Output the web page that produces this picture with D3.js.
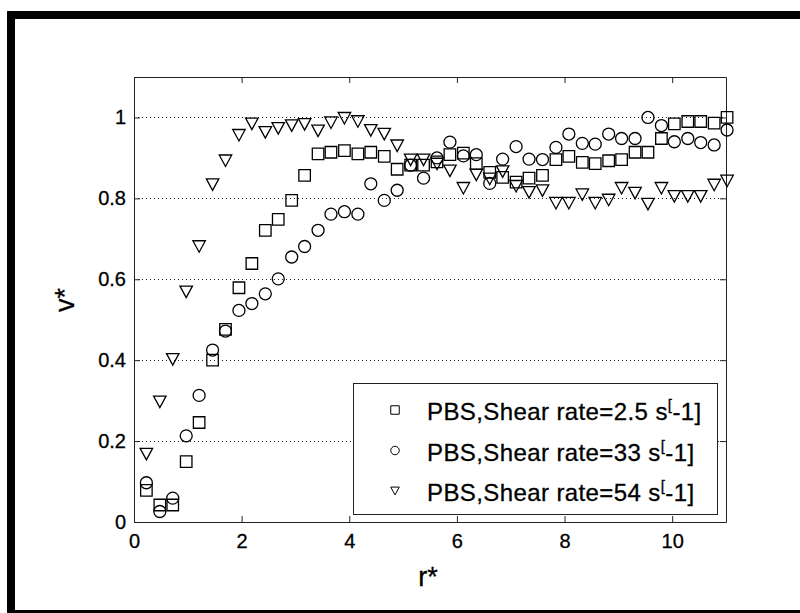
<!DOCTYPE html>
<html>
<head>
<meta charset="utf-8">
<script src="https://cdn.jsdelivr.net/npm/d3@7"></script>
<style>
	body { margin: 0; background: #fff; }
	svg { display: block; font-family: "Liberation Sans", Arial, sans-serif; }
	.axis path, .axis line { stroke: #222; }
	.axis text { fill: #000; font-size: 20px; stroke: #000; stroke-width: 0.3px; }
	.label { stroke: #000; stroke-width: 0.3px; }
</style>
</head>
<body>
<div id="chart"></div>
<script>
// r* positions (shared by the three series)
const rStar = [0.23, 0.48, 0.72, 0.97, 1.21, 1.46, 1.70, 1.95, 2.19, 2.44,
	2.68, 2.93, 3.17, 3.42, 3.66, 3.91, 4.16, 4.40, 4.65, 4.89,
	5.14, 5.38, 5.63, 5.87, 6.12, 6.36, 6.61, 6.85, 7.10, 7.34,
	7.59, 7.84, 8.08, 8.33, 8.57, 8.82, 9.06, 9.31, 9.55, 9.80,
	10.04, 10.29, 10.53, 10.78, 11.02];

// v* for shear rate 2.5 s^-1 (squares)
const vShear25 = [0.078, 0.042, 0.042, 0.149, 0.246, 0.400, 0.476, 0.579, 0.639, 0.721,
	0.748, 0.795, 0.857, 0.910, 0.914, 0.918, 0.910, 0.914, 0.904, 0.872,
	0.882, 0.882, 0.890, 0.908, 0.912, 0.886, 0.864, 0.852, 0.840, 0.850,
	0.857, 0.896, 0.904, 0.889, 0.886, 0.893, 0.896, 0.914, 0.914, 0.948,
	0.984, 0.990, 0.990, 0.986, 1.000];

// v* for shear rate 33 s^-1 (circles)
const vShear33 = [0.097, 0.026, 0.059, 0.213, 0.313, 0.425, 0.472, 0.523, 0.540, 0.564,
	0.601, 0.655, 0.681, 0.721, 0.761, 0.767, 0.761, 0.836, 0.795, 0.820,
	0.882, 0.850, 0.900, 0.939, 0.905, 0.908, 0.837, 0.897, 0.928, 0.897,
	0.896, 0.926, 0.959, 0.936, 0.934, 0.959, 0.948, 0.948, 1.000, 0.980,
	0.940, 0.948, 0.938, 0.932, 0.969];

// v* for shear rate 54 s^-1 (down triangles)
const vShear54 = [0.168, 0.297, 0.402, 0.569, 0.681, 0.834, 0.893, 0.956, 0.984, 0.963,
	0.973, 0.980, 0.983, 0.967, 0.987, 0.998, 0.990, 0.968, 0.959, 0.930,
	0.895, 0.895, 0.885, 0.868, 0.825, 0.858, 0.848, 0.866, 0.830, 0.815,
	0.819, 0.788, 0.788, 0.809, 0.788, 0.796, 0.825, 0.813, 0.786, 0.825,
	0.805, 0.805, 0.805, 0.833, 0.843];

const seriesNames = ['PBS,Shear rate=2.5 s', 'PBS,Shear rate=33 s', 'PBS,Shear rate=54 s'];
const seriesMarkers = ['square', 'circle', 'triangle'];
const xTicks = [0, 2, 4, 6, 8, 10];
const yTicks = [0, 0.2, 0.4, 0.6, 0.8, 1];

class ScatterChart {
	constructor(_config) {
		this.config = {
			parentElement: _config.parentElement,
			containerWidth: 800,
			containerHeight: 613,
			margin: { top: 77, right: 74, bottom: 91, left: 134 },
			legend: { x: 353, y: 383, width: 364, height: 131, rowHeight: 40.5 }
		};
		this.initVis();
	}

	initVis() {
		let vis = this;
		const c = vis.config;
		vis.width = c.containerWidth - c.margin.left - c.margin.right;
		vis.height = c.containerHeight - c.margin.top - c.margin.bottom;

		vis.svg = d3.select(c.parentElement).append('svg')
			.attr('width', c.containerWidth)
			.attr('height', c.containerHeight);

		// thick frame round the figure (runs off the right and bottom)
		vis.svg.append('rect')
			.attr('x', 7).attr('y', 11)
			.attr('width', 1000).attr('height', 700)
			.attr('fill', '#000');
		vis.svg.append('rect')
			.attr('x', 15).attr('y', 19)
			.attr('width', 1000).attr('height', 591)
			.attr('fill', '#fff');

		vis.chart = vis.svg.append('g')
			.attr('transform', `translate(${c.margin.left},${c.margin.top})`);

		vis.xScale = d3.scaleLinear().domain([0, 11]).range([0, vis.width]);
		vis.yScale = d3.scaleLinear().domain([0, 1.1]).range([vis.height, 0]);

		vis.series = [vShear25, vShear33, vShear54].map((vals, i) => ({
			name: seriesNames[i],
			marker: seriesMarkers[i],
			values: vals.map((v, j) => ({ x: rStar[j], y: v }))
		}));

		this.renderVis();
	}

	markerPath(type, s) {
		// s = full marker width in px
		const h = s / 2;
		if (type === 'square') return `M${-h},${-h}H${h}V${h}H${-h}Z`;
		if (type === 'circle') return `M${h},0A${h},${h} 0 1,1 ${-h},0A${h},${h} 0 1,1 ${h},0Z`;
		return `M${-h},${-h * 0.92}H${h}L0,${h * 0.92}Z`;
	}

	renderVis() {
		let vis = this;
		const c = vis.config;

		// dotted grid on y ticks
		vis.chart.append('g')
			.selectAll('line')
			.data(yTicks.filter(d => d > 0))
			.join('line')
			.attr('x1', 0)
			.attr('x2', vis.width)
			.attr('y1', d => Math.round(vis.yScale(d)) + 0.5)
			.attr('y2', d => Math.round(vis.yScale(d)) + 0.5)
			.attr('stroke', '#222')
			.attr('stroke-dasharray', '1,3');

		// box axes, ticks pointing inward
		vis.chart.append('g')
			.attr('class', 'axis')
			.attr('transform', `translate(0,${vis.height})`)
			.call(d3.axisBottom(vis.xScale).tickValues(xTicks).tickSizeInner(-6).tickSizeOuter(0).tickPadding(12));
		vis.chart.append('g')
			.attr('class', 'axis')
			.call(d3.axisTop(vis.xScale).tickValues(xTicks).tickSizeInner(-6).tickSizeOuter(0).tickFormat(''));
		vis.chart.append('g')
			.attr('class', 'axis')
			.call(d3.axisLeft(vis.yScale).tickValues(yTicks).tickSizeInner(-6).tickSizeOuter(0).tickPadding(8)
				.tickFormat(d3.format('~g')));
		vis.chart.append('g')
			.attr('class', 'axis')
			.attr('transform', `translate(${vis.width},0)`)
			.call(d3.axisRight(vis.yScale).tickValues(yTicks).tickSizeInner(-6).tickSizeOuter(0).tickFormat(''));

		// markers
		vis.chart.selectAll('.series')
			.data(vis.series)
			.join('g')
			.attr('class', 'series')
			.selectAll('path')
			.data(d => d.values.map(v => ({ ...v, marker: d.marker })))
			.join('path')
			.attr('transform', d => `translate(${vis.xScale(d.x)},${vis.yScale(d.y)})`)
			.attr('d', d => vis.markerPath(d.marker, d.marker === 'triangle' ? 12.5 : (d.marker === 'circle' ? 12 : 11.5)))
			.attr('fill', 'none')
			.attr('stroke', '#000')
			.attr('stroke-width', 1.3);

		// axis labels
		vis.svg.append('text')
			.attr('class', 'label')
			.attr('x', 428)
			.attr('y', 586)
			.attr('text-anchor', 'middle')
			.attr('font-size', 27)
			.text('r*');
		vis.svg.append('text')
			.attr('class', 'label')
			.attr('transform', 'translate(74,300) rotate(-90)')
			.attr('text-anchor', 'middle')
			.attr('font-size', 27)
			.text('v*');

		// legend
		const lg = vis.svg.append('g')
			.attr('transform', `translate(${c.legend.x},${c.legend.y})`);
		lg.append('rect')
			.attr('x', 0.5).attr('y', 0.5)
			.attr('width', c.legend.width).attr('height', c.legend.height)
			.attr('fill', '#fff')
			.attr('stroke', '#222');
		const rows = lg.selectAll('.legend-row')
			.data(vis.series)
			.join('g')
			.attr('class', 'legend-row')
			.attr('transform', (d, i) => `translate(0,${27 + i * c.legend.rowHeight})`);
		rows.append('path')
			.attr('transform', 'translate(42,0)')
			.attr('d', d => vis.markerPath(d.marker, 8.5))
			.attr('fill', 'none')
			.attr('stroke', '#000')
			.attr('stroke-width', 1);
		const label = rows.append('text')
			.attr('class', 'label')
			.attr('x', 74)
			.attr('y', 10)
			.attr('font-size', 24)
			.attr('letter-spacing', 0.4);
		label.append('tspan').text(d => d.name);
		label.append('tspan').attr('font-size', 15).attr('dy', -10).text('[');
		label.append('tspan').attr('dy', 10).text('-1]');
	}
}

new ScatterChart({ parentElement: '#chart' });
</script>
</body>
</html>
